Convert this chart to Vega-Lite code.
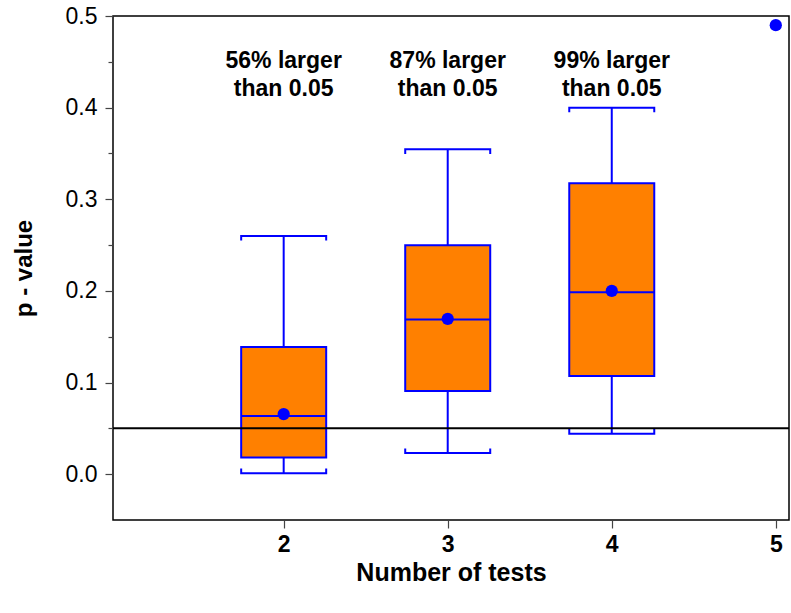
{
  "$schema": "https://vega.github.io/schema/vega-lite/v6.json",
  "width": 676,
  "height": 504,
  "autosize": {"type": "none"},
  "padding": {"left": 113, "top": 16, "right": 2, "bottom": 93},
  "background": "white",
  "config": {
    "font": "Liberation Sans",
    "view": {"stroke": "black", "strokeWidth": 1.5},
    "axisX": {"tickSize": 8, "labelFontSize": 23, "labelFontWeight": "bold", "labelPadding": 5, "titleFontSize": 25, "titleFontWeight": "bold", "titlePadding": 4, "domain": false, "grid": false, "tickColor": "#444", "tickWidth": 1.2, "labelColor": "black", "titleColor": "black"},
    "axisY": {"labelFontSize": 23, "labelPadding": 8, "titleFontSize": 24, "titleFontWeight": "bold", "titlePadding": 29, "domain": false, "grid": false, "tickColor": "#444", "tickWidth": 1.2, "labelColor": "black", "titleColor": "black"}
  },
  "datasets": {
    "boxes": [
      {"tests": 2, "lower": 0.001, "q1": 0.0183, "median": 0.0634, "q3": 0.1388, "upper": 0.260, "mean": 0.0656, "note": "56% larger\nthan 0.05"},
      {"tests": 3, "lower": 0.023, "q1": 0.0907, "median": 0.1687, "q3": 0.2499, "upper": 0.3546, "mean": 0.1694, "note": "87% larger\nthan 0.05"},
      {"tests": 4, "lower": 0.0441, "q1": 0.1071, "median": 0.1986, "q3": 0.3174, "upper": 0.400, "mean": 0.200, "note": "99% larger\nthan 0.05"}
    ],
    "single": [
      {"tests": 5, "p": 0.49}
    ]
  },
  "encoding": {
    "x": {"field": "tests", "type": "quantitative", "title": "Number of tests", "scale": {"domain": [0.99, 5.05], "nice": false, "zero": false},
      "axis": {"values": [2, 3, 4, 5], "format": "d"}}
  },
  "layer": [
    {
      "data": {"name": "boxes"},
      "mark": {"type": "rule", "color": "#0000FF", "strokeWidth": 2},
      "encoding": {
        "y": {"field": "lower", "type": "quantitative", "title": "p - value", "scale": {"domain": [-0.05, 0.5], "nice": false, "zero": false},
          "axis": {"values": [0, 0.05, 0.1, 0.15, 0.2, 0.25, 0.3, 0.35, 0.4, 0.45, 0.5],
            "labelExpr": "round(datum.value*100) % 10 == 0 ? format(datum.value, '.1f') : ''",
            "tickSize": {"condition": {"test": "round(datum.value*100) % 10 != 0", "value": 5}, "value": 8}}},
        "y2": {"field": "upper"}
      }
    },
    {
      "data": {"name": "boxes"},
      "mark": {"type": "bar", "size": 85, "fill": "#FF8000", "stroke": "#0000FF", "strokeWidth": 2},
      "encoding": {
        "y": {"field": "q1", "type": "quantitative", "title": "p - value"},
        "y2": {"field": "q3"}
      }
    },
    {
      "data": {"name": "boxes"},
      "mark": {"type": "tick", "orient": "horizontal", "size": 85, "thickness": 2, "color": "#0000FF", "opacity": 1},
      "encoding": {
        "y": {"field": "median", "type": "quantitative", "title": "p - value"}
      }
    },
    {
      "data": {"name": "boxes"},
      "transform": [{"fold": ["lower", "upper"], "as": ["key", "whisker"]}],
      "mark": {"type": "point", "filled": false, "size": 7225, "strokeWidth": 2, "color": "#0000FF", "opacity": 1},
      "encoding": {
        "y": {"field": "whisker", "type": "quantitative", "title": "p - value"},
        "shape": {"condition": {"test": "datum.key == 'upper'", "value": "M-1,0.11L-1,0L1,0L1,0.11"}, "value": "M-1,-0.11L-1,0L1,0L1,-0.11"}
      }
    },
    {
      "data": {"values": [{}]},
      "mark": {"type": "rule", "color": "black", "strokeWidth": 2},
      "encoding": {
        "x": null,
        "y": {"datum": 0.05, "type": "quantitative", "title": "p - value"}
      }
    },
    {
      "data": {"name": "boxes"},
      "mark": {"type": "point", "filled": true, "size": 150, "color": "#0000FF", "opacity": 1},
      "encoding": {
        "y": {"field": "mean", "type": "quantitative", "title": "p - value"}
      }
    },
    {
      "data": {"name": "single"},
      "mark": {"type": "point", "filled": true, "size": 150, "color": "#0000FF", "opacity": 1},
      "encoding": {
        "y": {"field": "p", "type": "quantitative", "title": "p - value"}
      }
    },
    {
      "data": {"name": "boxes"},
      "mark": {"type": "text", "fontSize": 23, "fontWeight": "bold", "color": "black", "lineBreak": "\n", "lineHeight": 28, "baseline": "middle", "align": "center"},
      "encoding": {
        "y": {"datum": 0.451, "type": "quantitative", "title": "p - value"},
        "text": {"field": "note"}
      }
    }
  ]
}
